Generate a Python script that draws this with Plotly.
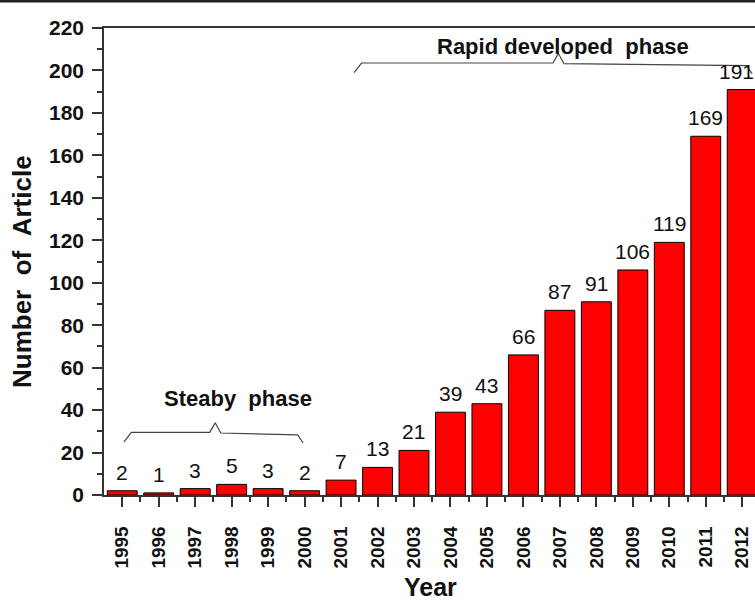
import plotly.graph_objects as go

years = list(range(1995, 2013))
articles = [2, 1, 3, 5, 3, 2, 7, 13, 21, 39, 43, 66, 87, 91, 106, 119, 169, 191]
y_ticks = list(range(0, 221, 20))

# phase braces: (label, start, end, peak, brace level, label x, label y)
phases = [
    ("Steaby\u00a0\u00a0phase", 1995.05, 1999.96, 1997.55, 29.5, 1998.18, 45.5),
    ("Rapid developed\u00a0\u00a0phase", 2001.36, 2012.27, 2006.96, 203.5, 2007.09, 211.5),
]

FONT = "Liberation Sans, Arial, sans-serif"
W, H = 755, 601
L, T, B = 104, 28, 106
PLOT_H = H - T - B

fig = go.Figure()
fig.add_trace(go.Bar(
    x=years, y=articles, width=0.82,
    marker=dict(color="#FF0000", line=dict(color="#000000", width=1)),
    showlegend=False, hoverinfo="x+y",
))

# value labels above bars (last one nudged left to stay inside the frame)
for i, (yr, a) in enumerate(zip(years, articles)):
    fig.add_annotation(x=yr, y=a, text=str(a), showarrow=False,
                       yanchor="bottom", yshift=5,
                       xshift=-6 if i == len(years) - 1 else 0,
                       font=dict(family=FONT, size=21, color="#111"))

for label, x0, x1, peak, lvl, lx, ly in phases:
    xs = [x0, x0 + 0.2, peak - 0.15, peak, peak + 0.15, x1 - 0.15, x1]
    ys = [lvl - 4.5, lvl, lvl, lvl + 4.5, lvl - 0.3, lvl - 1.2, lvl - 5]
    fig.add_trace(go.Scatter(x=xs, y=ys, mode="lines",
                             line=dict(color="#444", width=1.2),
                             showlegend=False, hoverinfo="skip", cliponaxis=False))
    fig.add_annotation(x=lx, y=ly, text="<b>" + label + "</b>", showarrow=False,
                       font=dict(family=FONT, size=22, color="#111"))

# axis titles as annotations
fig.add_annotation(xref="paper", yref="paper", x=(430 - L) / (W - L),
                   y=-(587 - (T + PLOT_H)) / PLOT_H, yanchor="middle",
                   text="<b>Year</b>", showarrow=False,
                   font=dict(family=FONT, size=25, color="#111"))
fig.add_annotation(xref="paper", yref="paper", x=-(L - 22) / (W - L),
                   y=1 - (272 - T) / PLOT_H, xanchor="center", yanchor="middle",
                   textangle=-90, text="<b>Number\u00a0\u00a0of\u00a0\u00a0Article</b>",
                   showarrow=False, font=dict(family=FONT, size=26, color="#111"))

fig.update_layout(
    width=W, height=H,
    margin=dict(l=L, r=0, t=T, b=B, autoexpand=False),
    plot_bgcolor="white", paper_bgcolor="white",
    shapes=[dict(type="line", xref="paper", yref="paper", x0=-0.2, x1=1.0,
                 y0=1 + (T - 1) / PLOT_H, y1=1 + (T - 1) / PLOT_H,
                 line=dict(color="#222", width=3))],
)
fig.update_xaxes(
    range=[1994.5, 1994.5 + (W - L) / 36.47],
    tickvals=years, ticktext=[str(y) for y in years],
    tickangle=-90, automargin=False,
    tickfont=dict(family=FONT, size=19, color="#111", weight="bold"),
    ticks="outside", ticklen=10, tickwidth=1.5, tickcolor="#333",
    ticklabelstandoff=12,
    minor=dict(tickvals=[y + 0.5 for y in years], ticks="outside", ticklen=5,
               tickwidth=1.5, tickcolor="#333"),
    showline=True, linecolor="#333", linewidth=1.5, mirror=True,
    showgrid=False, zeroline=False,
)
fig.update_yaxes(
    range=[0, 220], tickvals=y_ticks, automargin=False,
    tickfont=dict(family=FONT, size=21, color="#111", weight="bold"),
    ticks="outside", ticklen=10, tickwidth=1.5, tickcolor="#333",
    ticklabelstandoff=4,
    minor=dict(dtick=10, ticks="outside", ticklen=5, tickwidth=1.5, tickcolor="#333"),
    showline=True, linecolor="#333", linewidth=1.5,
    showgrid=False, zeroline=False,
)

fig.write_html("out.html", config={"displayModeBar": False},
               post_script="document.body.style.margin='0';")
